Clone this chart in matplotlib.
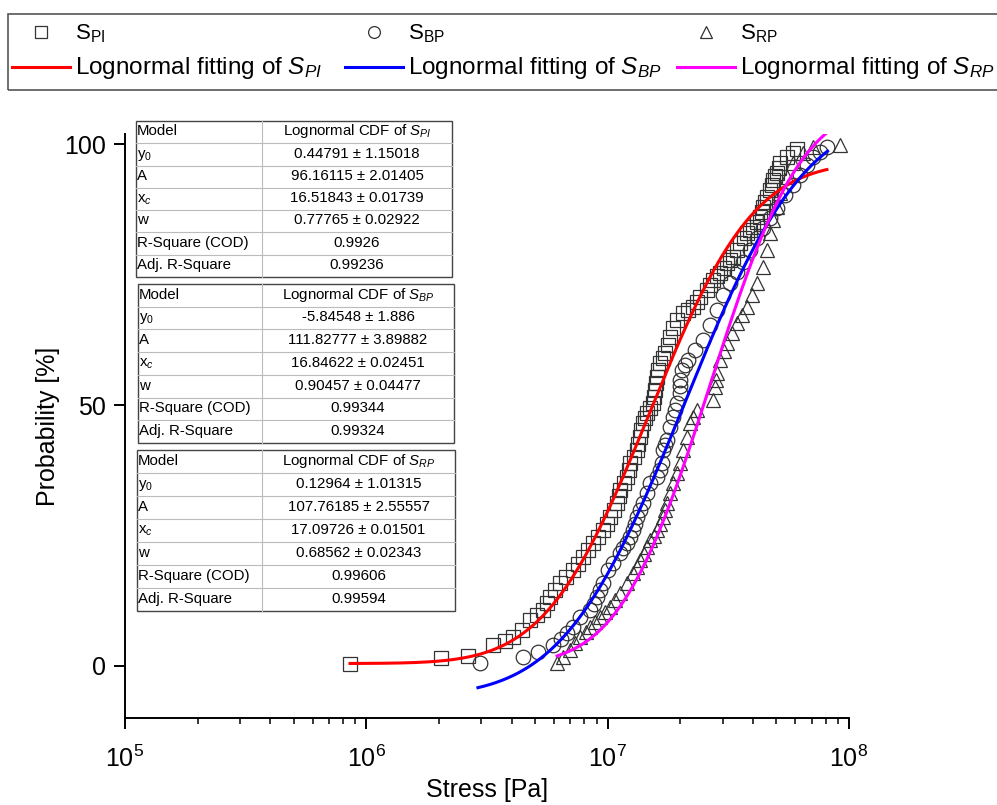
import math
import numpy as np
import matplotlib
matplotlib.use("Agg")
import matplotlib.pyplot as plt
from matplotlib.lines import Line2D
from matplotlib.patches import Rectangle

plt.rcParams['font.family'] = ['Liberation Sans', 'DejaVu Sans']
plt.rcParams['mathtext.fontset'] = 'custom'
plt.rcParams['mathtext.rm'] = 'Liberation Sans'
plt.rcParams['mathtext.it'] = 'Liberation Sans:italic'
plt.rcParams['mathtext.bf'] = 'Liberation Sans:bold'

# measured points, stress in MPa, probability in %
pi_stress = [0.856, 2.04, 2.64, 3.35, 3.75, 4.06, 4.42, 4.77, 5.10, 5.40, 5.60, 5.77, 6.05, 6.35, 6.75,
             7.19, 7.55, 7.91, 8.30, 8.70, 9.10, 9.57, 9.90, 10.23, 10.6, 10.94, 11.1, 11.26, 11.65, 12.03,
             12.2, 12.38, 12.8, 13.24, 13.4, 13.62, 13.8, 14.02, 14.3, 14.57, 15.0, 15.43, 15.6, 15.72, 15.9,
             16.02, 16.2, 16.49, 16.9, 17.29, 17.7, 18.14, 18.7, 19.39, 20.54, 21.5, 22.59, 23.4, 24.15, 25.82,
             26.5, 27.34, 28.3, 29.23, 30.2, 31.25, 32.2, 33.09, 34.2, 35.38, 36.6, 37.82, 38.9, 40.05, 41.4,
             42.82, 43.4, 44.06, 44.9, 45.78, 47.11, 47.8, 48.47, 49.4, 50.35, 51.1, 51.82, 55.4, 58.7, 61.0]
pi_prob = [0.3, 1.5, 1.9, 4.0, 4.8, 5.5, 6.9, 8.8, 9.7, 10.7, 12.0, 13.2, 14.5, 15.9, 17.1,
           18.4, 19.6, 20.9, 22.2, 23.6, 24.8, 26.0, 27.3, 28.5, 29.9, 31.2, 32.5, 33.7, 35.0, 36.2,
           37.6, 38.9, 40.1, 41.4, 42.6, 43.9, 45.2, 46.6, 47.5, 48.5, 49.5, 50.4, 51.6, 52.9, 54.2,
           55.4, 56.8, 58.1, 59.0, 60.0, 61.6, 63.1, 64.7, 66.4, 67.7, 68.3, 68.9, 69.8, 70.8, 72.1,
           73.0, 74.0, 74.7, 75.4, 76.3, 77.3, 77.9, 78.4, 79.8, 81.1, 82.1, 83.1, 83.6, 84.2, 85.2,
           86.1, 87.1, 88.0, 89.0, 90.0, 91.3, 92.3, 93.2, 93.9, 94.6, 95.5, 96.5, 97.6, 98.4, 99.2]

bp_stress = [2.96, 4.46, 5.15, 5.94, 6.40, 6.79, 7.19, 7.69, 8.46, 8.75, 9.04, 9.30, 9.57, 10.04, 10.53,
             11.26, 11.6, 12.03, 12.4, 12.74, 13.0, 13.24, 13.6, 14.02, 14.57, 14.99, 16.02, 16.4, 16.81, 16.96,
             17.3, 17.63, 18.14, 18.67, 19.0, 19.39, 19.95, 19.95, 19.95, 20.34, 21.0, 21.54, 23.03, 24.86, 26.57,
             28.41, 30.08, 32.15, 34.38, 36.40, 38.91, 41.60, 44.06, 47.11, 50.35, 54.34, 58.66, 62.70, 67.04,
             70.98, 75.88, 81.17]
bp_prob = [0.5, 1.7, 2.6, 4.0, 5.1, 6.3, 7.4, 9.4, 10.7, 11.9, 13.2, 14.5, 15.9, 18.4, 19.7,
           21.6, 22.6, 23.6, 24.8, 26.0, 27.3, 28.5, 29.9, 31.2, 33.1, 35.1, 36.2, 37.6, 38.9, 41.4,
           42.4, 43.3, 45.8, 47.7, 49.0, 50.4, 52.3, 53.6, 54.8, 56.8, 57.7, 58.7, 60.6, 62.5, 65.4,
           68.3, 71.2, 73.4, 75.6, 77.5, 79.8, 82.1, 84.0, 85.9, 87.9, 90.3, 92.3, 94.2, 96.1,
           97.5, 98.6, 99.6]

rp_stress = [6.17, 6.53, 6.99, 7.35, 7.69, 8.1, 8.46, 8.9, 9.30, 9.75, 10.23, 10.7, 11.26, 12.03, 12.74,
             13.2, 13.62, 14.1, 14.57, 14.99, 15.5, 16.02, 16.5, 16.96, 17.3, 17.63, 18.14, 18.67, 19.39, 19.95,
             20.54, 21.34, 21.96, 22.59, 23.47, 27.34, 27.87, 28.1, 28.41, 29.23, 30.2, 31.25, 32.8, 34.38, 36.0,
             37.82, 39.7, 41.60, 44.06, 45.78, 47.11, 48.47, 50.35, 51.82, 55.40, 58.66, 64.54, 70.98, 91.8]
rp_prob = [0.5, 1.7, 3.0, 4.3, 5.5, 6.5, 7.4, 8.4, 9.4, 10.3, 11.3, 12.6, 14.0, 15.9, 17.8,
           19.0, 20.3, 21.5, 22.8, 24.1, 25.0, 26.0, 27.3, 28.5, 29.9, 31.2, 33.1, 35.1, 37.0, 38.9,
           41.4, 43.9, 46.6, 47.7, 49.1, 51.0, 53.5, 54.8, 56.2, 58.7, 60.3, 61.9, 63.9, 65.8, 67.3,
           68.9, 71.1, 73.4, 76.5, 79.8, 83.0, 85.5, 88.0, 90.7, 93.8, 96.5, 98.4, 99.6, 99.8]

# lognormal CDF fit parameters (from the tables)
fit_y0 = [0.44791, -5.84548, 0.12964]
fit_A = [96.16115, 111.82777, 107.76185]
fit_xc = [16.51843, 16.84622, 17.09726]
fit_w = [0.77765, 0.90457, 0.68562]
fit_from = [0.856, 2.90, 6.17]   # MPa
fit_to = [81.0, 81.5, 81.0]      # MPa
fit_colors = ['#ff0000', '#0000ff', '#ff00ff']

row_names = ['Model', 'y$_0$', 'A', 'x$_c$', 'w', 'R-Square (COD)', 'Adj. R-Square']
pi_table = ['Lognormal CDF of $S_{PI}$', '0.44791 ± 1.15018', '96.16115 ± 2.01405', '16.51843 ± 0.01739',
            '0.77765 ± 0.02922', '0.9926', '0.99236']
bp_table = ['Lognormal CDF of $S_{BP}$', '-5.84548 ± 1.886', '111.82777 ± 3.89882', '16.84622 ± 0.02451',
            '0.90457 ± 0.04477', '0.99344', '0.99324']
rp_table = ['Lognormal CDF of $S_{RP}$', '0.12964 ± 1.01315', '107.76185 ± 2.55557', '17.09726 ± 0.01501',
            '0.68562 ± 0.02343', '0.99606', '0.99594']

W, H = 997, 805
fig = plt.figure(figsize=(W / 100, H / 100), dpi=100)


def fx(px):
    return px / W


def fy(py):
    return 1 - py / H


ax = fig.add_axes([fx(125), fy(718), (849 - 125) / W, (718 - 134) / H])

mk = dict(linestyle='none', mfc='none', mec='#333333', mew=0.9)
ax.plot(np.array(pi_stress) * 1e6, pi_prob, marker='s', ms=9.5, **mk)
ax.plot(np.array(bp_stress) * 1e6, bp_prob, marker='o', ms=10.5, **mk)
ax.plot(np.array(rp_stress) * 1e6, rp_prob, marker='^', ms=10.5, **mk)

for i in range(3):
    xs = np.logspace(np.log10(fit_from[i] * 1e6), np.log10(fit_to[i] * 1e6), 300)
    ys = [fit_y0[i] + fit_A[i] * 0.5 * (1 + math.erf((math.log(v) - fit_xc[i]) / (fit_w[i] * math.sqrt(2))))
          for v in xs]
    ax.plot(xs, ys, color=fit_colors[i], lw=2.2, zorder=3)

ax.set_xscale('log')
ax.set_xlim(1e5, 1e8)
ax.set_ylim(-10, 102)
ax.set_yticks([0, 50, 100])
for s in ['top', 'right']:
    ax.spines[s].set_visible(False)
for s in ['left', 'bottom']:
    ax.spines[s].set_linewidth(1.4)
ax.tick_params(which='major', direction='out', length=8, width=1.4, labelsize=18)
ax.tick_params(which='minor', direction='out', length=4, width=1.1)
ax.tick_params(axis='x', which='major', pad=12)
ax.tick_params(axis='y', which='major', pad=6)
ax.set_xlabel('Stress [Pa]', fontsize=18, labelpad=4)
ax.set_ylabel('Probability [%]', fontsize=18, labelpad=3)

# fit result tables
tables = [pi_table, bp_table, rp_table]
tab_top = [121, 284, 450]
tab_bot = [277, 443, 611]
tab_left = [136, 138, 137]
tab_right = [452, 454, 455]
col_div = 262
for t in range(3):
    top, bot, l, r = tab_top[t], tab_bot[t], tab_left[t], tab_right[t]
    rh = (bot - top) / 7
    for k in range(1, 7):
        yy = top + k * rh
        fig.add_artist(Line2D([fx(l), fx(r)], [fy(yy), fy(yy)], color='#bbbbbb', lw=0.8))
    fig.add_artist(Line2D([fx(col_div), fx(col_div)], [fy(top), fy(bot)], color='#bbbbbb', lw=0.8))
    fig.add_artist(Rectangle((fx(l), fy(bot)), fx(r) - fx(l), fy(top) - fy(bot),
                             fill=False, edgecolor='#444444', lw=1.0))
    for k in range(7):
        base = top + (k + 1) * rh - 8
        fig.text(fx(l + 1), fy(base), row_names[k], fontsize=10.8, va='baseline', ha='left')
        fig.text(fx((col_div + r) / 2), fy(base), tables[t][k], fontsize=10.8, va='baseline', ha='center')

# legend box at the top (runs past the right edge, as in the original)
fig.add_artist(Rectangle((fx(8), fy(90)), fx(1010) - fx(8), fy(14) - fy(90),
                         fill=False, edgecolor='#555555', lw=1.2))
leg_markers = ['s', 'o', '^']
leg_points = ['S$_{\\rm PI}$', 'S$_{\\rm BP}$', 'S$_{\\rm RP}$']
leg_fits = ['Lognormal fitting of $S_{PI}$', 'Lognormal fitting of $S_{BP}$', 'Lognormal fitting of $S_{RP}$']
col_x = [12, 345, 677]
for i in range(3):
    x0 = col_x[i]
    fig.add_artist(Line2D([fx(x0 + 29)], [fy(32)], marker=leg_markers[i], ms=8.5, **mk))
    fig.text(fx(x0 + 63), fy(39), leg_points[i], fontsize=16, va='baseline', ha='left')
    fig.add_artist(Line2D([fx(x0), fx(x0 + 58)], [fy(67), fy(67)], color=fit_colors[i], lw=2.2))
    fig.text(fx(x0 + 63), fy(74), leg_fits[i], fontsize=17.5, va='baseline', ha='left')

fig.savefig('out.png', dpi=100)
